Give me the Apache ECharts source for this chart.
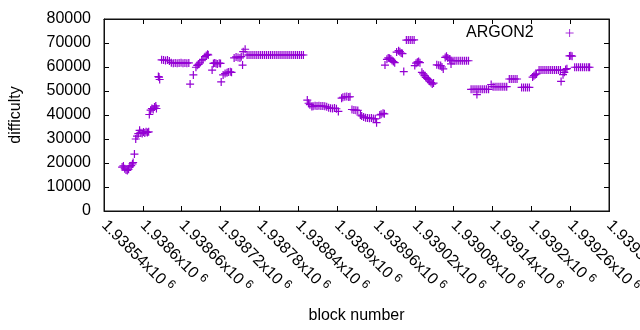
<!DOCTYPE html>
<html>
<head>
<meta charset="utf-8">
<script src="https://cdn.jsdelivr.net/npm/echarts@6/dist/echarts.min.js"></script>
<style>
  html, body { margin: 0; padding: 0; background: #fff; }
  .wrap { position: relative; width: 640px; height: 330px; }
  #chart { width: 640px; height: 330px; }
  /* border round the plot area (grid: left 104, top 19, 505 x 192) */
  .frame {
    position: absolute;
    left: 104px;
    top: 19px;
    width: 504px;
    height: 191px;
    border: 1px solid #111;
    pointer-events: none;
  }
</style>
</head>
<body>
<div class="wrap">
  <div id="chart"></div>
  <div class="frame"></div>
</div>
<script>
// axis ticks
const xMin = 1938540;
const xMax = 1939320;
const xStep = 60;
const yTicks = [0, 10000, 20000, 30000, 40000, 50000, 60000, 70000, 80000];

const seriesName = "ARGON2";

// block numbers, grouped by cluster
const blocks = [
  1938568, 1938570, 1938572, 1938574, 1938576, 1938578, 1938580, 1938582, 1938584, 1938585,
  1938587,
  1938589, 1938591, 1938593, 1938595, 1938597, 1938599, 1938601, 1938603, 1938605, 1938607, 1938609,
  1938610, 1938612, 1938614, 1938616, 1938618, 1938620, 1938621,
  1938624, 1938625, 1938626,
  1938629, 1938632, 1938635, 1938638, 1938641,
  1938644, 1938647, 1938650, 1938653, 1938656, 1938659, 1938662, 1938665, 1938668, 1938671,
  1938673,
  1938678, 1938682, 1938684, 1938686, 1938688, 1938691, 1938693, 1938696, 1938698, 1938700, 1938701,
  1938707, 1938709, 1938711, 1938713, 1938715, 1938718, 1938720,
  1938721, 1938724, 1938727, 1938730, 1938732, 1938735, 1938737,
  1938741, 1938744, 1938747, 1938750, 1938752, 1938754, 1938755, 1938758,
  1938761, 1938764, 1938767, 1938770, 1938773, 1938776, 1938779, 1938782, 1938785, 1938788,
  1938791, 1938794, 1938797, 1938800, 1938803, 1938806, 1938809, 1938812, 1938815, 1938818,
  1938821, 1938824, 1938827, 1938830, 1938833, 1938836, 1938839, 1938842, 1938845, 1938848,
  1938854, 1938856, 1938858, 1938861, 1938863, 1938866, 1938869, 1938872, 1938875, 1938878,
  1938881, 1938884, 1938887, 1938890, 1938893, 1938896, 1938899, 1938902,
  1938907, 1938909, 1938912, 1938915, 1938918, 1938920,
  1938923, 1938926, 1938929, 1938932,
  1938936, 1938938, 1938941, 1938944, 1938947, 1938950, 1938953, 1938956, 1938959, 1938961,
  1938966, 1938968, 1938971, 1938973,
  1938974, 1938977, 1938979, 1938981, 1938983, 1938985, 1938987, 1938989,
  1938992, 1938995, 1938997, 1938999, 1939001,
  1939003,
  1939007, 1939010, 1939013, 1939016, 1939019,
  1939020, 1939022, 1939024, 1939026, 1939028,
  1939031, 1939033, 1939035, 1939037, 1939039, 1939041, 1939043, 1939045, 1939047, 1939049,
  1939054, 1939057, 1939060, 1939062, 1939064,
  1939067, 1939069, 1939071, 1939074, 1939076, 1939076,
  1939079, 1939082, 1939085, 1939088, 1939091, 1939094, 1939097, 1939100, 1939103,
  1939107, 1939110, 1939113, 1939116, 1939116, 1939119, 1939122, 1939125, 1939128, 1939131, 1939134,
  1939138, 1939141, 1939144, 1939147, 1939150, 1939153, 1939156, 1939159, 1939162,
  1939166, 1939169, 1939172, 1939175, 1939178,
  1939185, 1939188, 1939191, 1939194, 1939197,
  1939202, 1939204, 1939206, 1939208,
  1939212, 1939215, 1939218, 1939221, 1939224, 1939227, 1939230, 1939233, 1939236, 1939239, 1939242, 1939245,
  1939246, 1939249, 1939251, 1939253, 1939255,
  1939259, 1939261, 1939263,
  1939267, 1939270, 1939273, 1939276, 1939279, 1939282, 1939285, 1939288, 1939290
];

// difficulty for each block above
const difficulty = [
  18300, 18800, 17600, 17100, 16900, 17400, 18400, 18900, 19600, 20200,
  23700,
  30000, 31200, 32200, 33600, 32600, 32300, 32900, 32500, 33000, 32700, 33000,
  40200, 42000, 42700, 42300, 43300, 43800, 42700,
  56000, 55800, 54800,
  63000, 62900, 62700, 62900, 62500,
  61800, 61600, 61700, 61600, 61700, 61800, 61600, 61700, 61600, 61700,
  52900,
  56700, 59900, 60700, 61100, 61700, 62600, 63200, 64300, 64800, 65300, 65000,
  58700, 61500, 61700, 61500, 61300, 61600, 61500,
  53800, 56700, 57300, 57600, 57900, 58000, 57800,
  63800, 64200, 64000, 63800, 64300, 60800, 66400, 67400,
  65000, 65000, 65000, 65000, 65000, 65000, 65000, 65000, 65000, 65000,
  65000, 65000, 65000, 65000, 65000, 65000, 65000, 65000, 65000, 65000,
  65000, 65000, 65000, 65000, 65000, 65000, 65000, 65000, 65000, 65000,
  46200, 44900, 44300, 43500, 43600, 43900, 43800, 43900, 43800, 43700,
  43600, 43400, 43000, 42800, 42700, 42900, 42600, 41500,
  47000, 47400, 47600, 47700, 47500, 47600,
  42300, 42100, 42000, 41900,
  40000, 39600, 39200, 38900, 38800, 38600, 38700, 38500, 38400, 36800,
  40000, 40300, 40700, 40500,
  60800, 63200, 63800, 63600, 63300, 62700, 62300, 61800,
  66200, 66800, 66400, 65800, 65600,
  58100,
  71200, 71300, 71300, 71200, 71300,
  60600, 61600, 62000, 62300, 61800,
  57800, 57100, 56400, 55700, 55300, 54800, 54100, 53500, 52900, 53300,
  60900, 60700, 60600, 60000, 59200,
  64000, 64500, 63800, 63300, 62700, 61300,
  62600, 62600, 62600, 62600, 62600, 62600, 62600, 62600, 62600,
  50700, 50700, 50700, 50700, 48500, 50700, 50700, 50700, 50700, 50700, 50700,
  52700, 51800, 51800, 51800, 51800, 51800, 51800, 51800, 51800,
  55000, 55000, 55000, 55000, 55000,
  51500, 51500, 51500, 51500, 51500,
  55800, 56400, 56800, 57100,
  58700, 58700, 58700, 58700, 58700, 58700, 58700, 58700, 58700, 58700, 58700, 58700,
  54000, 56800, 57800, 59000, 59300,
  64600, 64700, 64500,
  59900, 59900, 59900, 59900, 59900, 59900, 59900, 59900, 59900
];

const purple = "#9400d3";
const frameColor = "#111";
const font = "'Liberation Sans', Arial, sans-serif";
const plus = "path://M0,5H10M5,0V10";
// legend key: same cross, with empty room on its left for the gap after the text
const legendPlus = "path://M0,4M27,4H35M31,0V8";

const chart = echarts.init(document.getElementById("chart"));

const points = blocks.map((b, i) => [b, difficulty[i]]);

const tickLabel = (v) => {
  const m = parseFloat((v / 1e6).toFixed(5));
  return "{a|" + m + "x10}{b|6}";
};

const baseX = {
  type: "value",
  min: xMin,
  max: xMax,
  interval: xStep,
  splitLine: { show: false },
  axisLine: { show: true, onZero: false, lineStyle: { color: frameColor, width: 1 } },
  axisTick: { show: true, inside: true, length: 5, lineStyle: { color: "#000" } },
};
const baseY = {
  type: "value",
  min: yTicks[0],
  max: yTicks[yTicks.length - 1],
  interval: yTicks[1] - yTicks[0],
  splitLine: { show: false },
  axisLine: { show: true, onZero: false, lineStyle: { color: frameColor, width: 1 } },
  axisTick: { show: true, inside: true, length: 5, lineStyle: { color: "#000" } },
};

const option = {
  animation: false,
  grid: {
    left: 104, right: 31, top: 19, bottom: 119,
    containLabel: false,
    outerBoundsMode: "none",
    show: true,
    backgroundColor: "transparent",
    borderColor: frameColor,
    borderWidth: 1,
  },
  legend: {
    data: [{ name: seriesName, icon: legendPlus }],
    right: 61,
    top: 20,
    align: "right",
    itemWidth: 35,
    itemHeight: 8,
    itemStyle: { color: "transparent", borderColor: purple, borderWidth: 0.8 },
    textStyle: { fontFamily: font, fontSize: 16, color: "#000" },
  },
  xAxis: [
    Object.assign({}, baseX, {
      position: "bottom",
      name: "block number",
      nameLocation: "middle",
      nameGap: 97,
      nameTextStyle: { fontFamily: font, fontSize: 16, color: "#000" },
      axisLabel: {
        rotate: -45,
        margin: 12,
        color: "#000",
        formatter: tickLabel,
        rich: {
          a: { fontFamily: font, fontSize: 16, color: "#000", lineHeight: 20 },
          b: { fontFamily: font, fontSize: 12, color: "#000", verticalAlign: "top", padding: [0, 0, 0, 4] },
        },
      },
    }),
    Object.assign({}, baseX, { position: "top", axisLabel: { show: false } }),
  ],
  yAxis: [
    Object.assign({}, baseY, {
      position: "left",
      name: "difficulty",
      nameLocation: "middle",
      nameRotate: 90,
      nameGap: 80,
      nameTextStyle: { fontFamily: font, fontSize: 16, color: "#000" },
      axisLabel: {
        margin: 13,
        color: "#000",
        fontFamily: font,
        fontSize: 16,
        formatter: (v) => String(v),
      },
    }),
    Object.assign({}, baseY, { position: "right", axisLabel: { show: false } }),
  ],
  series: [
    {
      name: seriesName,
      type: "scatter",
      xAxisIndex: 0,
      yAxisIndex: 0,
      symbol: plus,
      symbolSize: 8,
      itemStyle: { color: "transparent", borderColor: purple, borderWidth: 1.2, opacity: 1 },
      emphasis: { disabled: true },
      data: points,
    },
  ],
};

chart.setOption(option);
</script>
</body>
</html>
